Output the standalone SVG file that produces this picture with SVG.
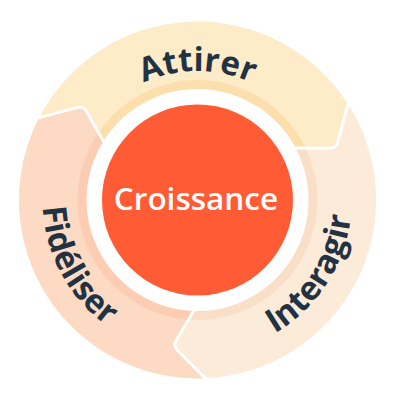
<svg xmlns="http://www.w3.org/2000/svg" width="400" height="400" viewBox="0 0 400 400">
  <style>
    .label { font-family: "Open Sans", "Lato", sans-serif; font-weight: 700; fill: #213343; }
    .center { font-family: "Open Sans", "Lato", sans-serif; font-weight: 600; fill: #ffffff; }
    .sep { fill: none; stroke: #ffffff; stroke-width: 3; stroke-linejoin: round; stroke-linecap: round; }
  </style>
  <defs>
    <path id="segFid" d="M 205.29 378.33 A 178.5 178.5 0 0 1 39.17 117.58 L 77.50 107.40 Q 83.30 105.86 86.26 111.08 L 103.37 141.18 A 111 111 0 0 0 193.63 310.93 L 176.11 340.80 Q 173.07 345.97 177.30 350.22 Z"/>
    <path id="segAtt" d="M 39.17 117.58 A 178.5 178.5 0 0 1 348.05 104.09 L 337.70 142.38 Q 336.13 148.17 330.13 148.13 L 295.51 147.89 A 111 111 0 0 0 103.37 141.18 L 86.26 111.08 Q 83.30 105.86 77.50 107.40 Z"/>
    <path id="segInt" d="M 348.05 104.09 A 178.5 178.5 0 0 1 205.29 378.33 L 177.30 350.22 Q 173.07 345.97 176.11 340.80 L 193.63 310.93 A 111 111 0 0 0 295.51 147.89 L 330.13 148.13 Q 336.13 148.17 337.70 142.38 Z"/>
    <clipPath id="clipFid"><use href="#segFid"/></clipPath>
    <clipPath id="clipAtt"><use href="#segAtt"/></clipPath>
    <clipPath id="clipInt"><use href="#segInt"/></clipPath>
    <path id="arcAtt" d="M 68.5 200 A 129 129 0 0 1 326.5 200"/>
    <path id="arcInt" d="M 113.08 329.99 A 155 155 0 0 0 281.92 70.01"/>
    <path id="arcFid" d="M 123.78 63.65 A 155 155 0 0 0 271.22 336.35"/>
  </defs>
  <rect width="400" height="400" fill="#ffffff"/>

  <g id="node-fideliser">
    <use href="#segFid" fill="#FDDAC4"/>
    <circle cx="197.5" cy="200" r="115.5" fill="none" stroke="#FCCDB2" stroke-width="9" clip-path="url(#clipFid)"/>
    <text class="label" font-size="33"><textPath href="#arcFid" startOffset="50%" text-anchor="middle">Fidéliser</textPath></text>
  </g>

  <g id="node-attirer">
    <use href="#segAtt" fill="#FEEBC8"/>
    <circle cx="197.5" cy="200" r="115.5" fill="none" stroke="#FDDFAD" stroke-width="9" clip-path="url(#clipAtt)"/>
    <text class="label" font-size="33"><textPath href="#arcAtt" startOffset="50%" text-anchor="middle">Attirer</textPath></text>
  </g>

  <g id="node-interagir">
    <use href="#segInt" fill="#FDEBDA"/>
    <circle cx="197.5" cy="200" r="115.5" fill="none" stroke="#F9DEC8" stroke-width="9" clip-path="url(#clipInt)"/>
    <text class="label" font-size="33"><textPath href="#arcInt" startOffset="50%" text-anchor="middle">Interagir</textPath></text>
  </g>

  <g id="connectors">
    <path class="sep" d="M 207.05 380.10 L 205.29 378.33 L 177.30 350.22 Q 173.07 345.97 176.11 340.80 L 193.63 310.93 L 195.15 308.34"/>
    <path class="sep" d="M 36.77 118.22 L 39.17 117.58 L 77.50 107.40 Q 83.30 105.86 86.26 111.08 L 103.37 141.18 L 104.85 143.79"/>
    <path class="sep" d="M 348.70 101.68 L 348.05 104.09 L 337.70 142.38 Q 336.13 148.17 330.13 148.13 L 295.51 147.89 L 292.51 147.87"/>
  </g>

  <g id="node-croissance">
    <circle cx="197.5" cy="200" r="95.5" fill="#FF5C35"/>
    <text class="center" x="196" y="209.5" font-size="31.5" text-anchor="middle">Croissance</text>
  </g>
</svg>
